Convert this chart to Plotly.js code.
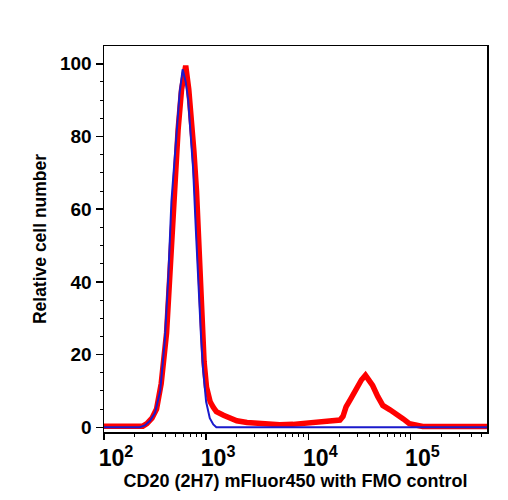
<!DOCTYPE html>
<html>
<head>
<meta charset="utf-8">
<script src="https://cdn.plot.ly/plotly-3.0.1.min.js"></script>
<style>
  html, body { margin: 0; padding: 0; background: #fff; }
  #chart { width: 508px; height: 500px; }
</style>
</head>
<body>
<div id="chart"></div>
<script>
// FMO control histogram (fluorescence intensity vs relative cell number)
const fmoIntensity = [100, 224, 251, 282, 316, 355, 394, 427, 457, 513, 550, 589, 631, 667, 708, 746, 794, 836, 891, 933, 1000, 1086, 1175, 1259, 562000];
const fmoCount     = [0, 0, 0.5, 1.8, 4, 10, 24, 42, 62, 81, 92, 98.5, 95, 90, 80, 71, 54, 40, 25, 16, 7, 2.5, 0.8, 0, 0];

// CD20 (2H7) mFluor450 stained sample
const cd20Intensity = [100, 240, 263, 295, 327, 363, 410, 447, 475, 532, 575, 631, 676, 719, 759, 805, 851, 902, 955, 1009, 1096, 1175, 1259, 1479, 1698, 1995, 2512, 3090, 3981, 5248, 7079, 10233, 14125, 20417, 21878, 23442, 26303, 29512, 33113, 36308, 39811, 42658, 47863, 53703, 63096, 72444, 85114, 97724, 114815, 131826, 562000];
const cd20Count     = [0.3, 0.3, 1, 2.5, 5, 12, 26, 45, 62, 82, 93, 99.5, 93, 85, 76, 65, 48, 30, 18, 11, 7, 5.5, 4.3, 3.3, 2.7, 1.8, 1.3, 1.1, 1.0, 0.7, 0.8, 1.2, 1.4, 2, 3, 5.6, 8, 10.7, 13, 14.3, 13, 11.5, 8.5, 6, 4.8, 3.8, 2.3, 1.0, 0.4, 0.2, 0.2];

const xTitle = 'CD20 (2H7) mFluor450 with FMO control';
const yTitle = 'Relative cell number';

const fontFamily = 'Liberation Sans, Arial, sans-serif';

const traces = [
  {
    x: cd20Intensity, y: cd20Count, type: 'scatter', mode: 'lines',
    line: { color: '#ff0000', width: 5.5 }, hoverinfo: 'skip'
  },
  {
    x: fmoIntensity, y: fmoCount, type: 'scatter', mode: 'lines',
    line: { color: '#1a1acc', width: 2 }, hoverinfo: 'skip'
  }
];

const layout = {
  width: 508, height: 500,
  margin: { l: 104, r: 21, t: 46, b: 68 },
  paper_bgcolor: '#fff', plot_bgcolor: '#fff',
  showlegend: false,
  font: { family: fontFamily, color: '#000', size: 16, weight: 'bold' },
  xaxis: {
    type: 'log', range: [2, 5.75],
    dtick: 1, exponentformat: 'power',
    showgrid: false, zeroline: false,
    showline: true, linecolor: '#000', linewidth: 1.5, mirror: true,
    ticks: 'outside', ticklen: 6, tickwidth: 1.5, tickcolor: '#000',
    minor: { ticks: 'outside', ticklen: 3, tickwidth: 1, tickcolor: '#000', dtick: 'D1' },
    ticklabelshift: 12,
    tickfont: { family: fontFamily, size: 18.5, weight: 'bold', color: '#000' },
    title: { text: xTitle, font: { family: fontFamily, size: 18, weight: 'bold', color: '#000' }, standoff: 3 }
  },
  yaxis: {
    range: [-1.3, 104.9],
    tickvals: [0, 20, 40, 60, 80, 100],
    showgrid: false, zeroline: false,
    showline: true, linecolor: '#000', linewidth: 1.5, mirror: true,
    ticks: 'outside', ticklen: 7, tickwidth: 1.5, tickcolor: '#000',
    minor: { ticks: 'outside', ticklen: 3, tickwidth: 1, tickcolor: '#000', dtick: 5 },
    tickfont: { family: fontFamily, size: 19, weight: 'bold', color: '#000' },
    title: { text: yTitle, font: { family: fontFamily, size: 17.5, weight: 'bold', color: '#000' }, standoff: 9 }
  }
};

Plotly.newPlot('chart', traces, layout, { staticPlot: true, displayModeBar: false });
</script>
</body>
</html>
